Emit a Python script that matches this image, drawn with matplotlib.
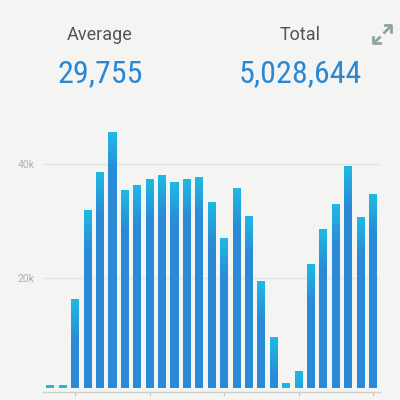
import numpy as np
import matplotlib
matplotlib.use("Agg")
import matplotlib.pyplot as plt
from matplotlib.colors import LinearSegmentedColormap
from matplotlib import font_manager

# weekly values
weeks = list(range(27))
visits = [1200, 1200, 16300, 31900, 38500, 45600, 35400, 36200, 37300, 38000,
          36800, 37400, 37700, 33300, 27000, 35800, 30800, 19400, 9700, 1600,
          3700, 22500, 28500, 32900, 39600, 30700, 34700]
average_label = "29,755"
total_label = "5,028,644"
y_ticks = [20000, 40000]
y_tick_labels = ["20k", "40k"]
x_tick_weeks = [2, 8, 14, 20, 26]

BG = "#f4f4f3"
BLUE = "#2a8ad6"
CYAN = "#1fb8e2"
GAP = 700          # bars stop a few px above the axis line
GRAD_H = 7000      # height of the cyan fade at the top of each bar
N_SLICES = 35
BAR_W = 0.65

fig = plt.figure(figsize=(4, 4), dpi=100, facecolor=BG)
ax = fig.add_axes([0.1075, 0.02, 0.8425, 0.6675])
ax.set_facecolor(BG)

heights = np.array(visits) - GAP
ax.bar(weeks, heights, bottom=GAP, width=BAR_W, color=BLUE, lw=0, zorder=2)

# gradient cap: thin stacked slices, cyan at the top fading to blue
cmap = LinearSegmentedColormap.from_list("cap", [BLUE, CYAN])
vis = np.array(visits, dtype=float)
step = GRAD_H / N_SLICES
for i in range(N_SLICES):
    top = vis - i * step
    bot = np.maximum(GAP, top - step * 1.6)
    ok = top > GAP
    col = cmap(1 - i / N_SLICES)
    ax.bar(np.array(weeks)[ok], (top - bot)[ok], bottom=bot[ok], width=BAR_W,
           color=col, lw=0, zorder=3 + i * 0.001)

ax.set_xlim(-0.6, 26.56)
ax.set_ylim(0, 46800)

ax.set_yticks(y_ticks, y_tick_labels)
ax.yaxis.grid(True, color="#e3e3e3", lw=1)
ax.set_axisbelow(True)
ax.tick_params(axis="y", length=0, pad=6, labelsize=7.5, labelcolor="#b0b0b0")
for lbl in ax.get_yticklabels():
    lbl.set_family(["Roboto", "DejaVu Sans"])

ax.set_xticks(x_tick_weeks, [""] * len(x_tick_weeks))
ax.tick_params(axis="x", length=3, width=0.8, color="#c4c4c4", direction="out")

for side in ["top", "right", "left"]:
    ax.spines[side].set_visible(False)
ax.spines["bottom"].set_color("#cfcfcf")
ax.spines["bottom"].set_linewidth(1)

# condensed face for the big numbers, if one is installed
names = {f.name for f in font_manager.fontManager.ttflist}
num_font = [n for n in ["Roboto Condensed", "Liberation Sans Narrow",
                        "DejaVu Sans Condensed"] if n in names] + ["Roboto", "DejaVu Sans"]

# header
fig.text(0.25, 0.9, "Average", ha="center", va="baseline", fontsize=13,
         color="#555555", family=["Roboto", "DejaVu Sans"])
fig.text(0.75, 0.9, "Total", ha="center", va="baseline", fontsize=13,
         color="#555555", family=["Roboto", "DejaVu Sans"])
fig.text(0.25, 0.795, average_label, ha="center", va="baseline", fontsize=23,
         color="#2a88d2", family=num_font, fontstretch="condensed")
fig.text(0.75, 0.795, total_label, ha="center", va="baseline", fontsize=23,
         color="#2a88d2", family=num_font, fontstretch="condensed")

# expand icon (pixel coordinates overlay)
ov = fig.add_axes([0, 0, 1, 1], facecolor="none")
ov.set_xlim(0, 400)
ov.set_ylim(400, 0)
ov.axis("off")
icon_c = "#8fa3a3"
ov.plot([383.5, 390.5], [33.5, 26.5], color=icon_c, lw=2, solid_capstyle="butt")
ov.plot([384.5, 390.8, 390.8], [25.2, 25.2, 31.5], color=icon_c, lw=2)
ov.plot([380.5, 373.5], [36.5, 43.5], color=icon_c, lw=2, solid_capstyle="butt")
ov.plot([373.2, 373.2, 379.5], [36.5, 42.8, 42.8], color=icon_c, lw=2)

fig.savefig("out.png", dpi=100, facecolor=BG)
